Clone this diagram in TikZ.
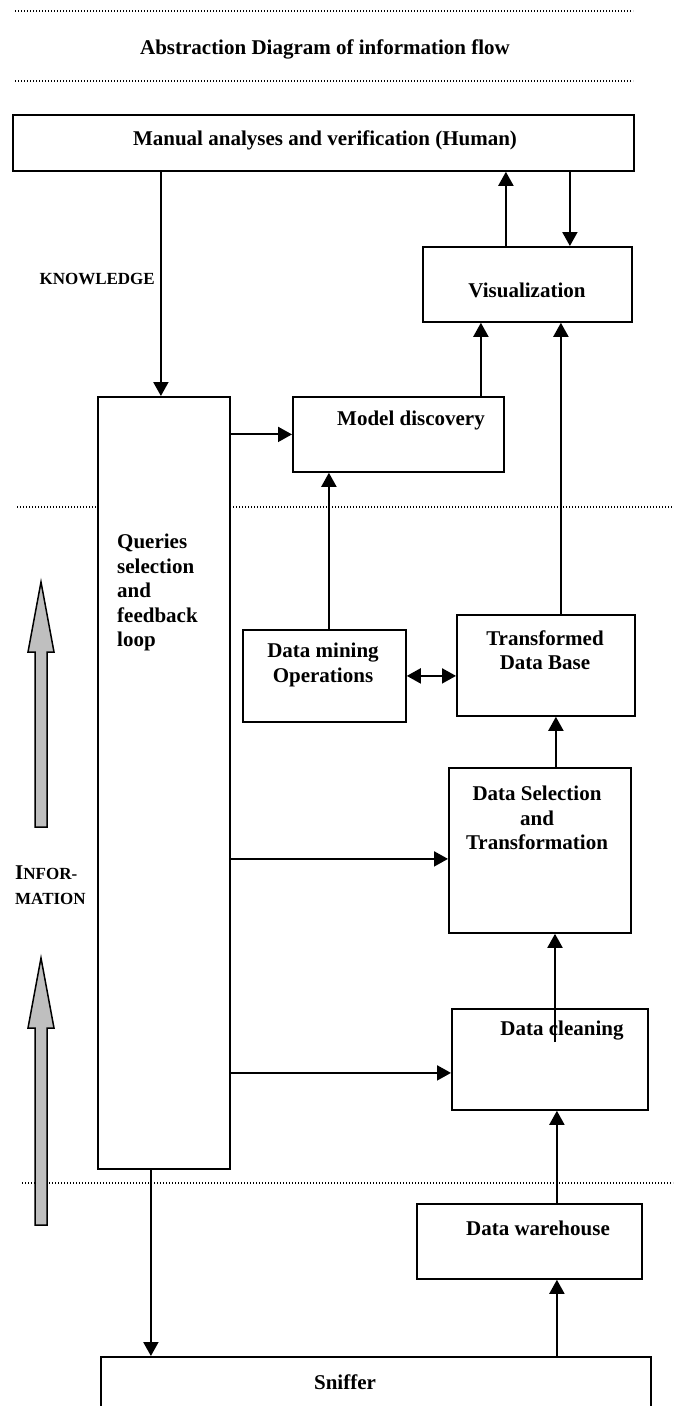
\documentclass[tikz,border=0pt]{standalone}
\usepackage{fontspec}
\setmainfont{Liberation Serif}
\usetikzlibrary{arrows.meta,calc}
\begin{document}
\begin{tikzpicture}[x=1pt,y=-1pt,
  box/.style={draw,line width=1.8pt,fill=white,inner sep=0pt,anchor=north west},
  arr/.style={line width=2pt,-{Triangle[length=14pt,width=15pt]}},
  dbl/.style={line width=2pt,{Triangle[length=14pt,width=15pt]}-{Triangle[length=14pt,width=15pt]}},
  dots/.style={line width=1.2pt,dash pattern=on 1.2pt off 1.8pt},
  txt/.style={font=\fontsize{21}{24.5}\selectfont\bfseries,inner sep=0pt,align=center},
  small/.style={font=\fontsize{17}{20}\selectfont\bfseries,inner sep=0pt},
  grey/.style={draw,line width=1.5pt,fill=black!25}
]
\useasboundingbox (0,0) rectangle (673,1406);
\fill[white] (0,0) rectangle (673,1406);

% dotted separators
\draw[dots] (15,11) -- (633,11);
\draw[dots] (15,81) -- (633,81);
\draw[dots] (17,507) -- (673,507);
\draw[dots] (22,1183) -- (673,1183);

% grey arrows
\draw[grey] (35,827) -- (35,652) -- (28,652) -- (41,582) -- (54,652) -- (47,652) -- (47,827) -- cycle;
\draw[grey] (35,1225) -- (35,1028) -- (28,1028) -- (41,958) -- (54,1028) -- (47,1028) -- (47,1225) -- cycle;

% boxes
\node[box,minimum width=621pt,minimum height=56pt] (manual) at (12,114) {};
\node[box,minimum width=209pt,minimum height=75pt] (vis) at (422,246) {};
\node[box,minimum width=211pt,minimum height=75pt] (model) at (292,396) {};
\node[box,minimum width=132pt,minimum height=772pt] (queries) at (97,396) {};
\node[box,minimum width=163pt,minimum height=92pt] (dm) at (242,629) {};
\node[box,minimum width=178pt,minimum height=101pt] (tdb) at (456,614) {};
\node[box,minimum width=182pt,minimum height=165pt] (sel) at (448,767) {};
\node[box,minimum width=196pt,minimum height=101pt] (clean) at (451,1008) {};
\node[box,minimum width=225pt,minimum height=75pt] (wh) at (416,1203) {};
\node[box,minimum width=550pt,minimum height=80pt] (sniff) at (100,1356) {};

% texts
\node[txt] (title) at (325,49) {Abstraction Diagram of information flow};
\node[txt] (manualt) at (325,140) {Manual analyses and verification (Human)};
\node[txt] (vist) at (527,290) {Visualization};
\node[txt] (modelt) at (411,420) {Model discovery};
\node[txt,align=left,anchor=north west] (queriest) at (117,534) {Queries\\selection\\and\\feedback\\loop};
\node[txt] (dmt) at (323,665) {Data mining\\Operations};
\node[txt] (tdbt) at (545,650) {Transformed\\Data Base};
\node[txt] (selt) at (537,818) {Data Selection\\and\\Transformation};
\node[txt] (cleant) at (562,1031) {Data cleaning};
\node[txt] (wht) at (538,1228) {Data warehouse};
\node[txt] (snifft) at (345,1382) {Sniffer};
\node[small,anchor=east] (know) at (155,279) {KNOWLEDGE};
\node[txt,align=left,anchor=west] (info) at (15,885)
  {I{\fontsize{17}{20}\selectfont NFOR-}\\{\fontsize{17}{20}\selectfont MATION}};

% connectors
\coordinate (k1) at ([xshift=-3pt]queries.north);
\draw[arr] (k1 |- manual.south) -- (k1);
\coordinate (va) at ([xshift=-21.5pt]vis.north);
\draw[arr] (va) -- (va |- manual.south);
\coordinate (vb) at ([xshift=42.5pt]vis.north);
\draw[arr] (vb |- manual.south) -- (vb);
\draw[arr] (queries.east |- model.west) -- (model.west);
\coordinate (mv) at ([xshift=82.5pt]model.north);
\draw[arr] (mv) -- (mv |- vis.south);
\coordinate (tv) at ([xshift=15pt]tdb.north);
\draw[arr] (tv) -- (tv |- vis.south);
\coordinate (dmv) at ([xshift=4.5pt]dm.north);
\draw[arr] (dmv) -- (dmv |- model.south);
\draw[dbl] (dm.east) -- (dm.east -| tdb.west);
\coordinate (st) at ([xshift=16pt]sel.north);
\draw[arr] (st) -- (st |- tdb.south);
\coordinate (qs) at ([yshift=-8.5pt]sel.west);
\draw[arr] (queries.east |- qs) -- (qs);
\coordinate (cs) at (555,1042);
\draw[arr] (cs) -- (cs |- sel.south);
\coordinate (qc) at ([yshift=-13.5pt]clean.west);
\draw[arr] (queries.east |- qc) -- (qc);
\coordinate (wc) at ([xshift=27.5pt]wh.north);
\draw[arr] (wc) -- (wc |- clean.south);
\draw[arr] (wc |- sniff.north) -- (wc |- wh.south);
\coordinate (qn) at ([xshift=-13pt]queries.south);
\draw[arr] (qn) -- (qn |- sniff.north);
\end{tikzpicture}
\end{document}
